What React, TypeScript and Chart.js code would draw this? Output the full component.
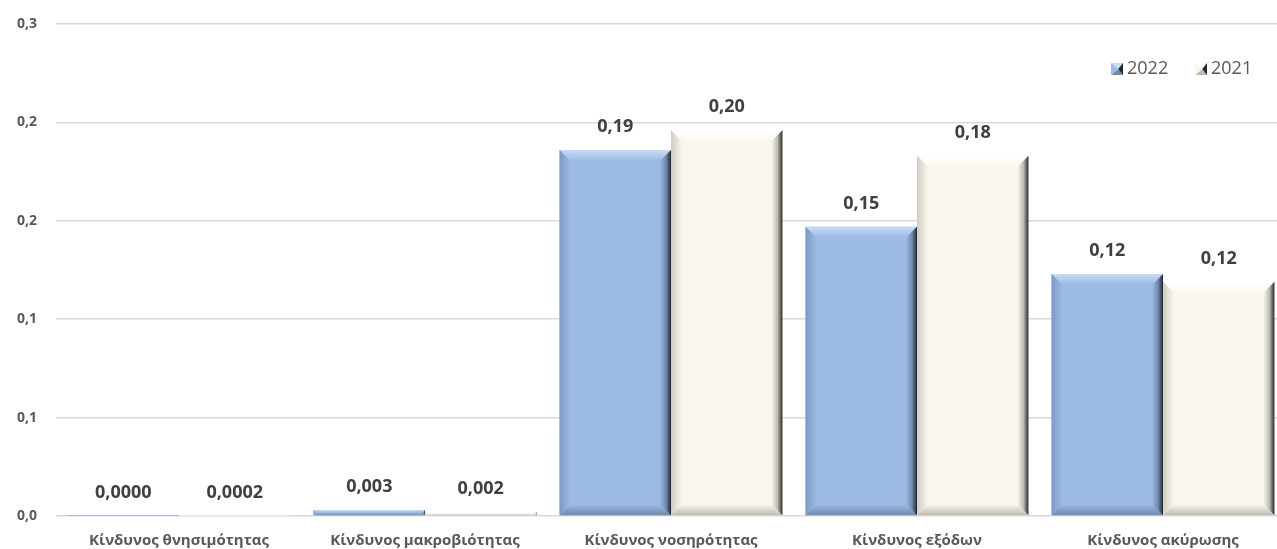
import React, { useEffect, useRef } from "react";
import { Chart, registerables } from "chart.js";

Chart.register(...registerables);

const categories = [
  "Κίνδυνος θνησιμότητας",
  "Κίνδυνος μακροβιότητας",
  "Κίνδυνος νοσηρότητας",
  "Κίνδυνος εξόδων",
  "Κίνδυνος ακύρωσης",
];
const series2022 = [0.00002, 0.003, 0.186, 0.147, 0.123];
const series2021 = [0.0002, 0.002, 0.196, 0.183, 0.119];
const labelDecimals = [4, 3, 2, 2, 2];
const yTickLabels = ["0,0", "0,1", "0,1", "0,2", "0,2", "0,3"];
const seriesNames = ["2022", "2021"];

const FONT = "'Open Sans', 'Noto Sans', sans-serif";

type Palette = { face: string; light: string; leftEdge: string; dark: string; bottom: string };
const palettes: Palette[] = [
  { face: "#9DBAE2", light: "#C7DBF5", leftEdge: "#7E9AC4", dark: "#1F2633", bottom: "#6F89B0" },
  { face: "#FAF8EE", light: "#FFFFFF", leftEdge: "#CFCDC3", dark: "#2A2A28", bottom: "#BDBBB1" },
];

const bevelPlugin = {
  id: "bevel",
  afterDatasetsDraw(chart: any) {
    const ctx = chart.ctx as CanvasRenderingContext2D;
    chart.data.datasets.forEach((ds: any, di: number) => {
      const meta = chart.getDatasetMeta(di);
      const pal = palettes[di];
      meta.data.forEach((bar: any) => {
        const p = bar.getProps(["x", "y", "base", "width"], true);
        const l = p.x - p.width / 2;
        const r = p.x + p.width / 2;
        const t = Math.min(p.y, p.base);
        const bt = Math.max(p.y, p.base);
        const h = bt - t;
        if (h <= 0) return;
        const b = Math.min(11, h / 2, p.width / 2);
        ctx.save();
        let g = ctx.createLinearGradient(0, t, 0, t + b);
        g.addColorStop(0, pal.light);
        g.addColorStop(1, pal.face);
        ctx.fillStyle = g;
        ctx.beginPath();
        ctx.moveTo(l, t);
        ctx.lineTo(r, t);
        ctx.lineTo(r - b, t + b);
        ctx.lineTo(l + b, t + b);
        ctx.closePath();
        ctx.fill();
        g = ctx.createLinearGradient(l, 0, l + b, 0);
        g.addColorStop(0, pal.leftEdge);
        g.addColorStop(1, pal.face);
        ctx.fillStyle = g;
        ctx.beginPath();
        ctx.moveTo(l, t);
        ctx.lineTo(l + b, t + b);
        ctx.lineTo(l + b, bt - b);
        ctx.lineTo(l, bt);
        ctx.closePath();
        ctx.fill();
        g = ctx.createLinearGradient(0, bt - b, 0, bt);
        g.addColorStop(0, pal.face);
        g.addColorStop(1, pal.bottom);
        ctx.fillStyle = g;
        ctx.beginPath();
        ctx.moveTo(l, bt);
        ctx.lineTo(l + b, bt - b);
        ctx.lineTo(r - b, bt - b);
        ctx.lineTo(r, bt);
        ctx.closePath();
        ctx.fill();
        g = ctx.createLinearGradient(r - b, 0, r, 0);
        g.addColorStop(0, pal.face);
        g.addColorStop(0.55, pal.bottom);
        g.addColorStop(1, pal.dark);
        ctx.fillStyle = g;
        ctx.beginPath();
        ctx.moveTo(r, t);
        ctx.lineTo(r - b, t + b);
        ctx.lineTo(r - b, bt - b);
        ctx.lineTo(r, bt);
        ctx.closePath();
        ctx.fill();
        ctx.restore();
      });
    });
  },
};

const labelsPlugin = {
  id: "valueLabels",
  afterDatasetsDraw(chart: any) {
    const ctx = chart.ctx as CanvasRenderingContext2D;
    ctx.save();
    ctx.font = `bold 18px ${FONT}`;
    ctx.fillStyle = "#404040";
    ctx.textAlign = "center";
    ctx.textBaseline = "middle";
    chart.data.datasets.forEach((ds: any, di: number) => {
      const meta = chart.getDatasetMeta(di);
      meta.data.forEach((bar: any, i: number) => {
        const v = ds.data[i] as number;
        const txt = v.toFixed(labelDecimals[i]).replace(".", ",");
        ctx.fillText(txt, bar.x, bar.y - 23);
      });
    });
    ctx.restore();
  },
};

const legendPlugin = {
  id: "customLegend",
  afterDraw(chart: any) {
    const ctx = chart.ctx as CanvasRenderingContext2D;
    ctx.save();
    ctx.font = `18px ${FONT}`;
    ctx.textBaseline = "middle";
    const positions = [1111, 1195];
    const cy = 69;
    seriesNames.forEach((name, i) => {
      const x = positions[i];
      const pal = palettes[i];
      const s = 12;
      const y = cy - s / 2;
      const c = { x: x + s * 0.6, y: y + s / 2 };
      const tri = (pts: number[][], fill: string) => {
        ctx.fillStyle = fill;
        ctx.beginPath();
        ctx.moveTo(pts[0][0], pts[0][1]);
        ctx.lineTo(pts[1][0], pts[1][1]);
        ctx.lineTo(pts[2][0], pts[2][1]);
        ctx.closePath();
        ctx.fill();
      };
      tri([[x, y], [x + s, y], [c.x, c.y]], pal.light);
      tri([[x, y + s], [x + s, y + s], [c.x, c.y]], pal.bottom);
      tri([[x, y], [x, y + s], [c.x, c.y]], pal.face);
      tri([[x + s, y], [x + s, y + s], [c.x, c.y]], pal.dark);
      ctx.fillStyle = "#595959";
      ctx.textAlign = "left";
      ctx.fillText(name, x + s + 4, cy);
    });
    ctx.restore();
  },
};

export default function App() {
  const canvasRef = useRef<HTMLCanvasElement | null>(null);

  useEffect(() => {
    if (!canvasRef.current) return;
    const chart = new Chart(canvasRef.current, {
      type: "bar",
      data: {
        labels: categories,
        datasets: [
          {
            label: seriesNames[0],
            data: series2022,
            backgroundColor: palettes[0].face,
            borderWidth: 0,
            categoryPercentage: 0.906,
            barPercentage: 1.0,
          },
          {
            label: seriesNames[1],
            data: series2021,
            backgroundColor: palettes[1].face,
            borderWidth: 0,
            categoryPercentage: 0.906,
            barPercentage: 1.0,
          },
        ],
      },
      options: {
        animation: false,
        responsive: false,
        maintainAspectRatio: false,
        layout: { padding: { top: 24, left: 0, right: 4, bottom: 0 } },
        plugins: {
          legend: { display: false },
          tooltip: { enabled: false },
          title: { display: false },
        },
        scales: {
          x: {
            grid: { display: false, drawTicks: false },
            border: { display: false },
            ticks: {
              font: { family: FONT, size: 15, weight: "bold" },
              color: "#595959",
              padding: 16,
              maxRotation: 0,
              autoSkip: false,
            },
            afterFit(scale: any) {
              scale.height = 33;
              scale.paddingLeft = 0;
              scale.paddingRight = 0;
            },
          },
          y: {
            min: 0,
            max: 0.25,
            grid: { color: "#D9D9D9", lineWidth: 1.5, drawTicks: false },
            border: { display: false },
            ticks: {
              stepSize: 0.05,
              padding: 19,
              color: "#595959",
              font: { family: FONT, size: 14, weight: "bold" },
              callback: (_v: any, i: number) => yTickLabels[i],
            },
            afterFit(scale: any) {
              scale.width = 56;
              scale.paddingTop = 0;
              scale.paddingBottom = 0;
            },
          },
        },
      },
      plugins: [bevelPlugin, labelsPlugin, legendPlugin],
    });
    return () => chart.destroy();
  }, []);

  return (
    <div
      style={{
        position: "absolute",
        left: 0,
        top: 0,
        width: 1277,
        height: 549,
        overflow: "hidden",
        background: "#fff",
      }}
    >
      <canvas ref={canvasRef} width={1290} height={549} style={{ width: 1290, height: 549, display: "block" }} />
    </div>
  );
}
